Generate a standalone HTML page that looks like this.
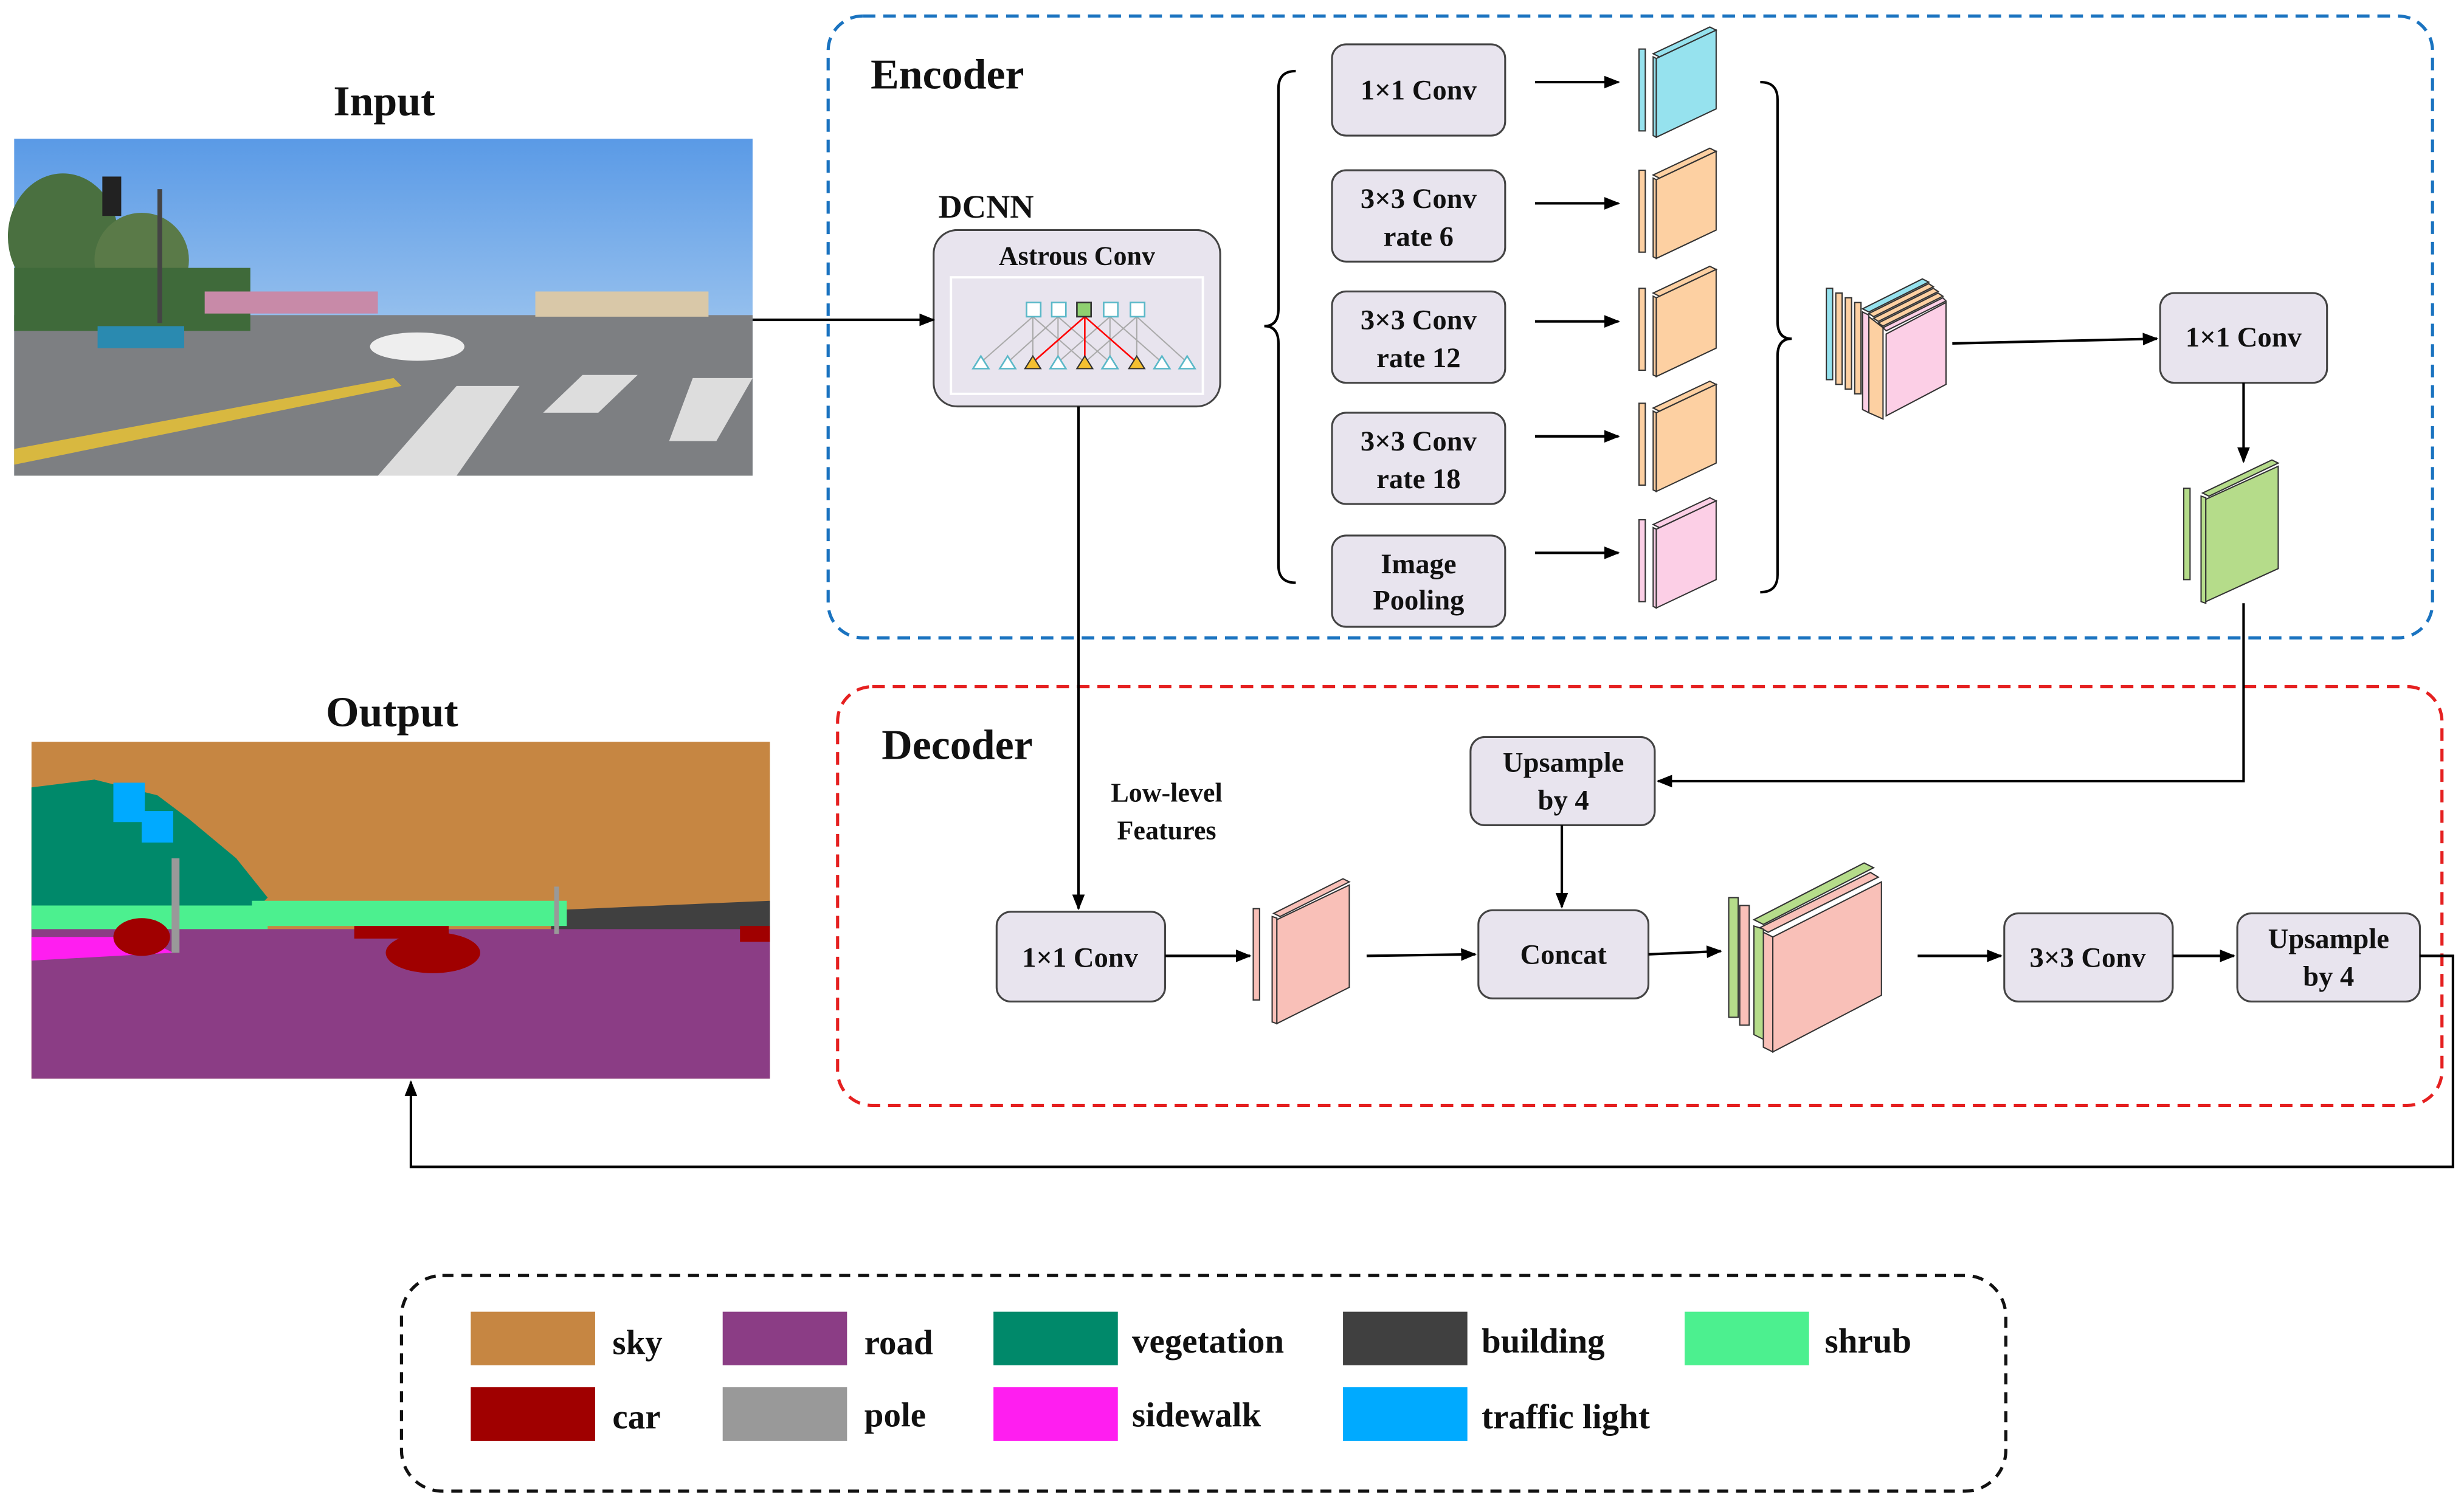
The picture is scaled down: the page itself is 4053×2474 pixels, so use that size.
<!DOCTYPE html>
<html><head><meta charset="utf-8"><style>
html,body{margin:0;padding:0;background:#fff;}
svg{display:block;}
text{font-family:"Liberation Serif","DejaVu Serif","Times New Roman",serif;font-weight:bold;fill:#111;}
.bx{fill:#e8e4ee;stroke:#444;stroke-width:1.2;}
.bt{font-size:18px;text-anchor:middle;}
.ln{stroke:#000;stroke-width:1.6;fill:none;}
.fm *{stroke:#333;stroke-width:0.8;}
</style></head><body>
<svg width="4053" height="2474" viewBox="0 0 1565 955" xmlns="http://www.w3.org/2000/svg">
<defs>
<marker id="ar" markerWidth="10" markerHeight="8" refX="9" refY="4" orient="auto" markerUnits="userSpaceOnUse">
<path d="M0,0 L10,4 L0,8 z" fill="#000"/></marker>
<g id="fm" class="fm">
<rect x="-9" y="14" width="4" height="52"/>
<polygon points="0,17 36,0 40,2 4,19"/>
<polygon points="0,19 2,20 2,70 0,69"/>
<polygon points="2,20 40,2 40,52 2,70"/>
</g>
<linearGradient id="sky" x1="0" y1="0" x2="0" y2="1"><stop offset="0" stop-color="#5a9ae6"/><stop offset="1" stop-color="#c8e0f4"/></linearGradient>
</defs>

<text x="244" y="73" font-size="27" text-anchor="middle">Input</text>
<text x="249" y="461" font-size="27" text-anchor="middle">Output</text>

<!-- input photo -->
<g>
<rect x="9" y="88" width="469" height="214" fill="url(#sky)"/>
<rect x="9" y="200" width="469" height="102" fill="#7d7f82"/>
<ellipse cx="40" cy="150" rx="35" ry="40" fill="#4a7040"/>
<ellipse cx="90" cy="165" rx="30" ry="30" fill="#5a7a48"/>
<rect x="9" y="170" width="150" height="40" fill="#3f6a3a"/>
<rect x="130" y="185" width="110" height="14" fill="#c88aa8"/>
<rect x="340" y="185" width="110" height="16" fill="#d9c8a8"/>
<polygon points="9,285 250,240 255,245 9,295" fill="#d8b840"/>
<polygon points="290,245 330,245 290,302 240,302" fill="#ddd"/>
<polygon points="370,238 405,238 380,262 345,262" fill="#ddd"/>
<polygon points="440,240 478,240 455,280 425,280" fill="#ddd"/>
<ellipse cx="265" cy="220" rx="30" ry="9" fill="#eee"/>
<rect x="62" y="207" width="55" height="14" fill="#2a8ab0"/>
<rect x="100" y="120" width="3" height="85" fill="#444"/>
<rect x="65" y="112" width="12" height="25" fill="#222"/>
</g>

<!-- output segmentation -->
<g>
<rect x="20" y="471" width="469" height="214" fill="#c68642"/>
<polygon points="20,500 60,495 100,505 120,520 150,545 170,570 160,580 20,590" fill="#00896a"/>
<rect x="72" y="497" width="20" height="25" fill="#00aaff"/>
<rect x="90" y="515" width="20" height="20" fill="#00aaff"/>
<polygon points="350,578 489,572 489,592 350,592" fill="#404040"/>
<rect x="160" y="572" width="200" height="16" fill="#4cf08f"/>
<rect x="20" y="575" width="150" height="20" fill="#4cf08f"/>
<rect x="20" y="590" width="469" height="95" fill="#8b3d85"/>
<polygon points="20,595 90,595 110,605 20,610" fill="#ff1ef0"/>
<ellipse cx="275" cy="605" rx="30" ry="13" fill="#a00000"/>
<ellipse cx="90" cy="595" rx="18" ry="12" fill="#a00000"/>
<rect x="225" y="588" width="60" height="8" fill="#a00000"/>
<rect x="470" y="588" width="19" height="10" fill="#a00000"/>
<rect x="109" y="545" width="5" height="60" fill="#999"/>
<rect x="352" y="563" width="3" height="30" fill="#999"/>
</g>

<!-- encoder -->
<rect x="526" y="10" width="1019" height="395" rx="22" fill="none" stroke="#1a73c0" stroke-width="2" stroke-dasharray="8,5"/>
<text x="553" y="56" font-size="27">Encoder</text>
<text x="596" y="138" font-size="21">DCNN</text>
<rect x="593" y="146" width="182" height="112" rx="15" class="bx"/>
<text x="684" y="168" font-size="17" text-anchor="middle">Astrous Conv</text>
<rect x="604" y="176" width="160" height="74" fill="none" stroke="#fff" stroke-width="1.5"/>
<g stroke="#aaa" stroke-width="0.8">
<line x1="623" y1="230" x2="656" y2="201"/><line x1="640" y1="230" x2="672" y2="201"/>
<line x1="656" y1="230" x2="656" y2="201"/><line x1="672" y1="230" x2="672" y2="201"/>
<line x1="672" y1="230" x2="705" y2="201"/><line x1="705" y1="230" x2="705" y2="201"/>
<line x1="705" y1="230" x2="672" y2="201"/><line x1="689" y1="230" x2="656" y2="201"/>
<line x1="689" y1="230" x2="722" y2="201"/><line x1="722" y1="230" x2="722" y2="201"/>
<line x1="738" y1="230" x2="705" y2="201"/><line x1="754" y1="230" x2="722" y2="201"/>
</g>
<g stroke="#f00" stroke-width="1"><line x1="656" y1="230" x2="689" y2="201"/><line x1="689" y1="230" x2="689" y2="201"/><line x1="722" y1="230" x2="689" y2="201"/></g>
<g stroke="#5ab8c8" stroke-width="1" fill="#fff">
<rect x="652" y="192" width="9" height="9"/><rect x="668" y="192" width="9" height="9"/><rect x="701" y="192" width="9" height="9"/><rect x="718" y="192" width="9" height="9"/>
<polygon points="623,226 618,234 628,234"/><polygon points="640,226 635,234 645,234"/><polygon points="672,226 667,234 677,234"/><polygon points="705,226 700,234 710,234"/><polygon points="738,226 733,234 743,234"/><polygon points="754,226 749,234 759,234"/>
</g>
<rect x="684" y="192" width="9" height="9" fill="#8fd070" stroke="#333"/>
<g fill="#f5c030" stroke="#333" stroke-width="0.8"><polygon points="656,226 651,234 661,234"/><polygon points="689,226 684,234 694,234"/><polygon points="722,226 717,234 727,234"/></g>
<line x1="478" y1="203" x2="593" y2="203" class="ln" marker-end="url(#ar)"/>

<rect x="846" y="28" width="110" height="58" rx="9" class="bx"/><text x="901" y="63" class="bt">1×1 Conv</text>
<rect x="846" y="108" width="110" height="58" rx="9" class="bx"/><text x="901" y="132" class="bt">3×3 Conv</text><text x="901" y="156" class="bt">rate 6</text>
<rect x="846" y="185" width="110" height="58" rx="9" class="bx"/><text x="901" y="209" class="bt">3×3 Conv</text><text x="901" y="233" class="bt">rate 12</text>
<rect x="846" y="262" width="110" height="58" rx="9" class="bx"/><text x="901" y="286" class="bt">3×3 Conv</text><text x="901" y="310" class="bt">rate 18</text>
<rect x="846" y="340" width="110" height="58" rx="9" class="bx"/><text x="901" y="364" class="bt">Image</text><text x="901" y="387" class="bt">Pooling</text>
<g class="ln">
<line x1="975" y1="52" x2="1028" y2="52" marker-end="url(#ar)"/>
<line x1="975" y1="129" x2="1028" y2="129" marker-end="url(#ar)"/>
<line x1="975" y1="204" x2="1028" y2="204" marker-end="url(#ar)"/>
<line x1="975" y1="277" x2="1028" y2="277" marker-end="url(#ar)"/>
<line x1="975" y1="351" x2="1028" y2="351" marker-end="url(#ar)"/>
</g>
<path d="M823,45 Q812,45 812,56 L812,196 Q812,207 803,207 Q812,207 812,218 L812,359 Q812,370 823,370" class="ln" stroke-width="1.3"/>
<path d="M1118,52 Q1129,52 1129,63 L1129,204 Q1129,215 1138,215 Q1129,215 1129,226 L1129,365 Q1129,376 1118,376" class="ln" stroke-width="1.3"/>
<use href="#fm" x="1050" y="17" fill="#96e2ee"/>
<use href="#fm" x="1050" y="94" fill="#fdd0a2"/>
<use href="#fm" x="1050" y="169" fill="#fdd0a2"/>
<use href="#fm" x="1050" y="242" fill="#fdd0a2"/>
<use href="#fm" x="1050" y="316" fill="#fccfe6"/>

<g class="fm">
<rect x="1160" y="183" width="4" height="58" fill="#96e2ee"/>
<rect x="1166" y="186" width="4" height="58" fill="#fdd0a2"/>
<rect x="1172" y="189" width="4" height="58" fill="#fdd0a2"/>
<rect x="1178" y="192" width="4" height="58" fill="#fdd0a2"/>
<polygon points="1183,196 1221,177 1225,179 1187,198" fill="#96e2ee"/>
<polygon points="1187,199 1225,180 1228,182 1190,201" fill="#fdd0a2"/>
<polygon points="1190,202 1228,183 1231,185 1193,204" fill="#fdd0a2"/>
<polygon points="1193,205 1231,186 1234,188 1196,207" fill="#fdd0a2"/>
<polygon points="1196,208 1234,189 1236,191 1198,210" fill="#fccfe6"/>
<polygon points="1183,198 1187,200 1187,262 1183,260" fill="#fccfe6"/>
<polygon points="1187,201 1196,208 1196,266 1187,262" fill="#fdd0a2"/>
<polygon points="1198,212 1236,192 1236,244 1198,264" fill="#fccfe6"/>
</g>
<line x1="1240" y1="218" x2="1370" y2="215" class="ln" marker-end="url(#ar)"/>
<rect x="1372" y="186" width="106" height="57" rx="9" class="bx"/><text x="1425" y="220" class="bt">1×1 Conv</text>
<line x1="1425" y1="243" x2="1425" y2="293" class="ln" marker-end="url(#ar)"/>
<g class="fm">
<rect x="1387" y="310" width="4" height="58" fill="#b5dc8a"/>
<polygon points="1399,313 1443,292 1447,294 1403,315" fill="#b5dc8a"/>
<polygon points="1398,315 1401,316 1401,383 1398,382" fill="#b5dc8a"/>
<polygon points="1401,317 1447,296 1447,361 1401,382" fill="#b5dc8a"/>
</g>

<!-- decoder -->
<rect x="532" y="436" width="1019" height="266" rx="22" fill="none" stroke="#e52020" stroke-width="2" stroke-dasharray="8,5"/>
<text x="560" y="482" font-size="27">Decoder</text>
<line x1="685" y1="258" x2="685" y2="577" class="ln" marker-end="url(#ar)"/>
<text x="741" y="509" font-size="17" text-anchor="middle">Low-level</text>
<text x="741" y="533" font-size="17" text-anchor="middle">Features</text>
<rect x="633" y="579" width="107" height="57" rx="9" class="bx"/><text x="686" y="614" class="bt">1×1 Conv</text>
<line x1="740" y1="607" x2="794" y2="607" class="ln" marker-end="url(#ar)"/>
<g class="fm">
<rect x="796" y="577" width="4" height="58" fill="#f9c0b8"/>
<polygon points="809,580 853,558 857,560 813,582" fill="#f9c0b8"/>
<polygon points="808,582 811,583 811,650 808,649" fill="#f9c0b8"/>
<polygon points="811,584 857,562 857,627 811,650" fill="#f9c0b8"/>
</g>
<line x1="868" y1="607" x2="937" y2="606" class="ln" marker-end="url(#ar)"/>
<rect x="939" y="578" width="108" height="56" rx="9" class="bx"/><text x="993" y="612" class="bt">Concat</text>
<rect x="934" y="468" width="117" height="56" rx="9" class="bx"/><text x="993" y="490" class="bt">Upsample</text><text x="993" y="514" class="bt">by 4</text>
<line x1="992" y1="524" x2="992" y2="576" class="ln" marker-end="url(#ar)"/>
<polyline points="1425,383 1425,496 1053,496" class="ln" marker-end="url(#ar)"/>
<line x1="1047" y1="606" x2="1093" y2="604" class="ln" marker-end="url(#ar)"/>
<g class="fm">
<rect x="1098" y="570" width="6" height="76" fill="#b5dc8a"/>
<rect x="1105" y="575" width="6" height="76" fill="#f9c0b8"/>
<polygon points="1114,584 1184,548 1190,551 1120,587" fill="#b5dc8a"/>
<polygon points="1118,589 1188,554 1193,557 1123,592" fill="#f9c0b8"/>
<polygon points="1114,588 1120,590 1120,660 1114,657" fill="#b5dc8a"/>
<polygon points="1120,592 1126,595 1126,668 1120,665" fill="#f9c0b8"/>
<polygon points="1126,595 1195,560 1195,632 1126,668" fill="#f9c0b8"/>
</g>
<line x1="1218" y1="607" x2="1271" y2="607" class="ln" marker-end="url(#ar)"/>
<rect x="1273" y="580" width="107" height="56" rx="9" class="bx"/><text x="1326" y="614" class="bt">3×3 Conv</text>
<line x1="1380" y1="607" x2="1419" y2="607" class="ln" marker-end="url(#ar)"/>
<rect x="1421" y="580" width="116" height="56" rx="9" class="bx"/><text x="1479" y="602" class="bt">Upsample</text><text x="1479" y="626" class="bt">by 4</text>
<polyline points="1537,607 1558,607 1558,741 261,741 261,687" class="ln" marker-end="url(#ar)"/>

<!-- legend -->
<rect x="255" y="810" width="1019" height="137" rx="26" fill="none" stroke="#111" stroke-width="2" stroke-dasharray="7,5"/>
<g font-size="22">
<rect x="299" y="833" width="79" height="34" fill="#c68642"/><text x="389" y="860">sky</text>
<rect x="459" y="833" width="79" height="34" fill="#8b3d85"/><text x="549" y="860">road</text>
<rect x="631" y="833" width="79" height="34" fill="#00896a"/><text x="719" y="859">vegetation</text>
<rect x="853" y="833" width="79" height="34" fill="#404040"/><text x="941" y="859">building</text>
<rect x="1070" y="833" width="79" height="34" fill="#4cf08f"/><text x="1159" y="859">shrub</text>
<rect x="299" y="881" width="79" height="34" fill="#a00000"/><text x="389" y="907">car</text>
<rect x="459" y="881" width="79" height="34" fill="#999999"/><text x="549" y="906">pole</text>
<rect x="631" y="881" width="79" height="34" fill="#ff1ef0"/><text x="719" y="906">sidewalk</text>
<rect x="853" y="881" width="79" height="34" fill="#00aaff"/><text x="941" y="907">traffic light</text>
</g>
</svg>
</body></html>
